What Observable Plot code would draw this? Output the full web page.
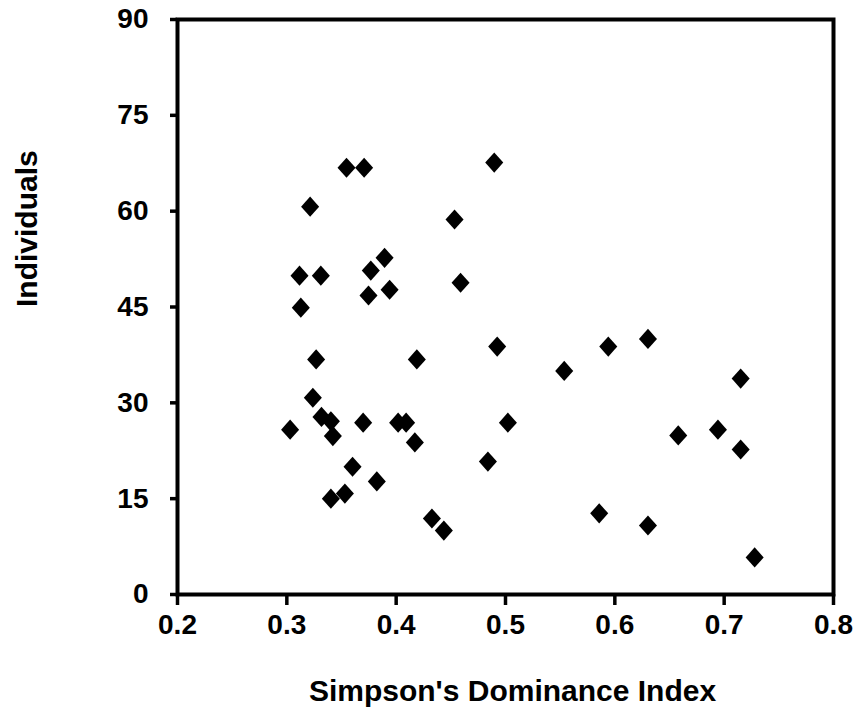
<!DOCTYPE html>
<html>
<head>
<meta charset="utf-8">
<script src="https://cdn.jsdelivr.net/npm/d3@7"></script>
<script src="https://cdn.jsdelivr.net/npm/@observablehq/plot@0.6"></script>
<style>
  html, body { margin: 0; padding: 0; background: #fff; }
  #chart { width: 860px; height: 717px; }
  #chart svg text { font-weight: bold; }
</style>
</head>
<body>
<div id="chart"></div>
<script>
// Simpson's Dominance Index (x) vs Individuals (y)
const simpson = [
  0.3546, 0.3707, 0.4897, 0.3213, 0.4534, 0.3894, 0.3768, 0.3116, 0.3311, 0.4589,
  0.3747, 0.3940, 0.3128, 0.3268, 0.4189, 0.4924, 0.3238, 0.3317, 0.3403, 0.3421,
  0.3030, 0.3698, 0.4018, 0.4091, 0.4171, 0.5022, 0.4839, 0.3601, 0.3823, 0.3403,
  0.3531, 0.4327, 0.4436, 0.5537, 0.5940, 0.6303, 0.7151, 0.6580, 0.6943, 0.7151,
  0.5857, 0.6303, 0.7279
];
const individuals = [
  66.8, 66.8, 67.6, 60.7, 58.7, 52.7, 50.7, 49.9, 49.9, 48.8,
  46.8, 47.7, 44.9, 36.8, 36.8, 38.8, 30.8, 27.8, 27.1, 24.8,
  25.8, 26.9, 26.9, 26.9, 23.8, 26.9, 20.8, 20.0, 17.7, 15.0,
  15.8, 11.9, 10.0, 35.0, 38.8, 40.0, 33.8, 24.9, 25.8, 22.7,
  12.7, 10.8, 5.8
];
const xTicks = [0.2, 0.3, 0.4, 0.5, 0.6, 0.7, 0.8];
const yTicks = [0, 15, 30, 45, 60, 75, 90];
const xTitle = "Simpson's Dominance Index";
const yTitle = "Individuals";

const points = simpson.map((x, i) => ({x, y: individuals[i]}));

// slightly taller-than-wide diamond
const tallDiamond = {
  draw(context, size) {
    const r = Math.sqrt(size / Math.PI);
    const w = r * 0.95, h = r * 1.06;
    context.moveTo(0, -h);
    context.lineTo(w, 0);
    context.lineTo(0, h);
    context.lineTo(-w, 0);
    context.closePath();
  }
};

const font = "'Liberation Sans', Arial, Helvetica, sans-serif";

const chart = Plot.plot({
  width: 860,
  height: 717,
  marginLeft: 177,
  marginRight: 27,
  marginTop: 19,
  marginBottom: 123,
  style: {fontFamily: font, fontWeight: "bold", color: "#000", background: "#fff"},
  x: {domain: [0.2, 0.8], ticks: xTicks, label: null},
  y: {domain: [0, 90], ticks: yTicks, label: null},
  marks: [
    Plot.axisX(xTicks, {tickSize: 11, tickPadding: 9, fontSize: 28, fontWeight: "bold", strokeWidth: 3.5, label: null, tickFormat: d => d.toFixed(1)}),
    Plot.axisY(yTicks, {tickSize: 7, tickPadding: 22, fontSize: 28, fontWeight: "bold", strokeWidth: 3.5, label: null}),
    Plot.frame({stroke: "#000", strokeWidth: 4}),
    Plot.dot(points, {x: "x", y: "y", symbol: tallDiamond, r: 9.5, fill: "#000", stroke: "none"}),
    Plot.text([yTitle], {frameAnchor: "left", rotate: -90, dx: -150, fontSize: 30, fontWeight: "bold", fill: "#000"}),
    Plot.text([xTitle], {frameAnchor: "bottom", dx: 7, dy: 106, fontSize: 30, fontWeight: "bold", fill: "#000"})
  ]
});
document.getElementById("chart").appendChild(chart);
</script>
</body>
</html>
